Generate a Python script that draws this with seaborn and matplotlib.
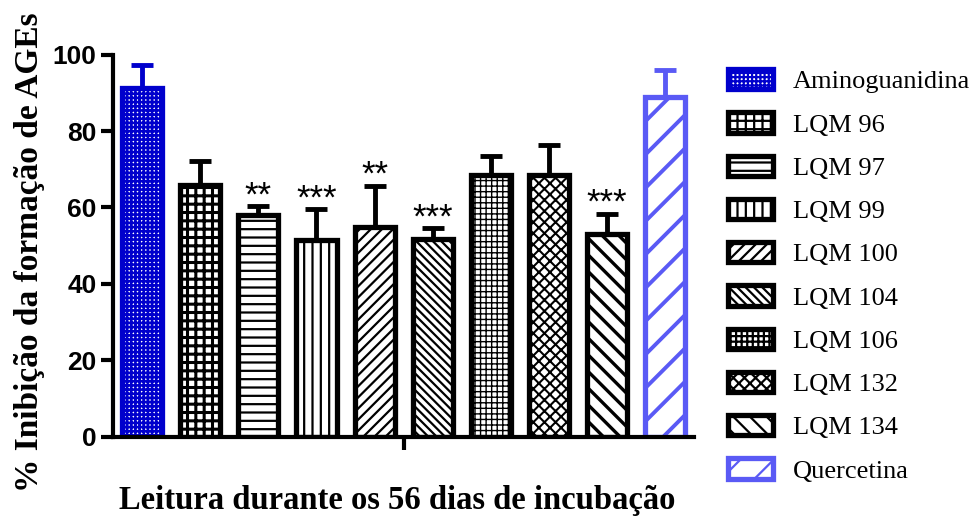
import pandas as pd
import numpy as np
import matplotlib
matplotlib.use("Agg")
import matplotlib.pyplot as plt
import seaborn as sns

# valores (56 dias de incubacao)
compostos = ["Aminoguanidina", "LQM 96", "LQM 97", "LQM 99", "LQM 100",
             "LQM 104", "LQM 106", "LQM 132", "LQM 134", "Quercetina"]
inibicao = [91.4, 65.9, 58.1, 51.5, 54.8, 51.7, 68.6, 68.6, 53.0, 88.9]
erro = [6.0, 6.2, 2.2, 8.1, 10.9, 2.9, 4.8, 7.7, 5.4, 7.2]
asteriscos = ["", "", "**", "***", "**", "***", "", "", "***", ""]
cores = ["#0000CC", "black", "black", "black", "black",
         "black", "black", "black", "black", "#5A5AF5"]
hachuras = ["++++", "++", "--", "||", "///", "\\\\\\\\", "+++", "xxx", "\\\\", "/"]
esp_hachura = [1.9, 2.2, 1.6, 1.6, 1.6, 1.6, 1.0, 1.5, 2.4, 2.8]

veri = pd.DataFrame({"composto": compostos, "inibicao": inibicao})

preto = {"text.color": "black", "axes.edgecolor": "black",
         "xtick.color": "black", "ytick.color": "black",
         "axes.labelcolor": "black"}
sns.set_style("ticks", rc=preto)
plt.rcParams["hatch.linewidth"] = 1.6

fig = plt.figure(figsize=(9.75, 5.26), dpi=100)
ax = fig.add_axes([0.116, 0.170, 0.596, 0.726])

sns.barplot(x="composto", y="inibicao", data=veri, hue="composto",
            order=compostos, hue_order=compostos, width=0.69,
            legend=False, errorbar=None, ax=ax)

# estilo de cada barra: fundo branco, hachura e borda grossa
barras = [c.patches[0] for c in ax.containers]
for b, cor, h, lw in zip(barras, cores, hachuras, esp_hachura):
    b.set_facecolor("white")
    b.set_edgecolor(cor)
    b.set_hatch(h)
    b.set_linewidth(3.8)
    b.set_zorder(2)
    if hasattr(b, "set_hatch_linewidth"):
        b.set_hatch_linewidth(lw)

# barras de erro somente para cima + asteriscos
for b, cor, e, ast in zip(barras, cores, erro, asteriscos):
    xc = b.get_x() + b.get_width() / 2
    topo = b.get_height()
    ax.errorbar(xc, topo, yerr=[[0], [e]], fmt="none", ecolor=cor,
                elinewidth=3.5, capsize=8, capthick=3.5, zorder=3)
    if ast:
        ax.annotate(ast, (xc, topo + e), xytext=(0, 0.5),
                    textcoords="offset points", ha="center", va="baseline",
                    fontsize=25, family="Liberation Sans", color="black")

ax.set_xlim(-0.5, 9.5)
ax.set_ylim(0, 100)
ax.set_yticks([0, 20, 40, 60, 80, 100])
ax.set_xticks([4.5])
ax.set_xticklabels([""])
for lab in ax.get_yticklabels():
    lab.set_family("Liberation Sans")
    lab.set_fontweight("bold")
    lab.set_fontsize(19)
ax.tick_params(axis="both", width=3, length=9, direction="out", pad=3)
for s in ["left", "bottom"]:
    ax.spines[s].set_linewidth(3)
sns.despine(ax=ax)

ax.set_xlabel("")
ax.set_ylabel("")
fig.text(0.030, 0.52, "% Inibição da formação de AGEs", rotation=90,
         ha="center", va="center", family="Liberation Serif",
         fontweight="bold", fontsize=24)
fig.text(0.407, 0.049, "Leitura durante os 56 dias de incubação",
         ha="center", va="center", family="Liberation Serif",
         fontweight="bold", fontsize=23.5)

leg = ax.legend(handles=barras, labels=compostos, loc="upper left",
                bbox_to_anchor=(1.04, 0.99), frameon=False,
                prop={"family": "Liberation Serif", "size": 19},
                handlelength=1.7, handleheight=0.8, labelspacing=0.72,
                handletextpad=0.75, borderaxespad=0)

fig.savefig("out.png", dpi=100)
